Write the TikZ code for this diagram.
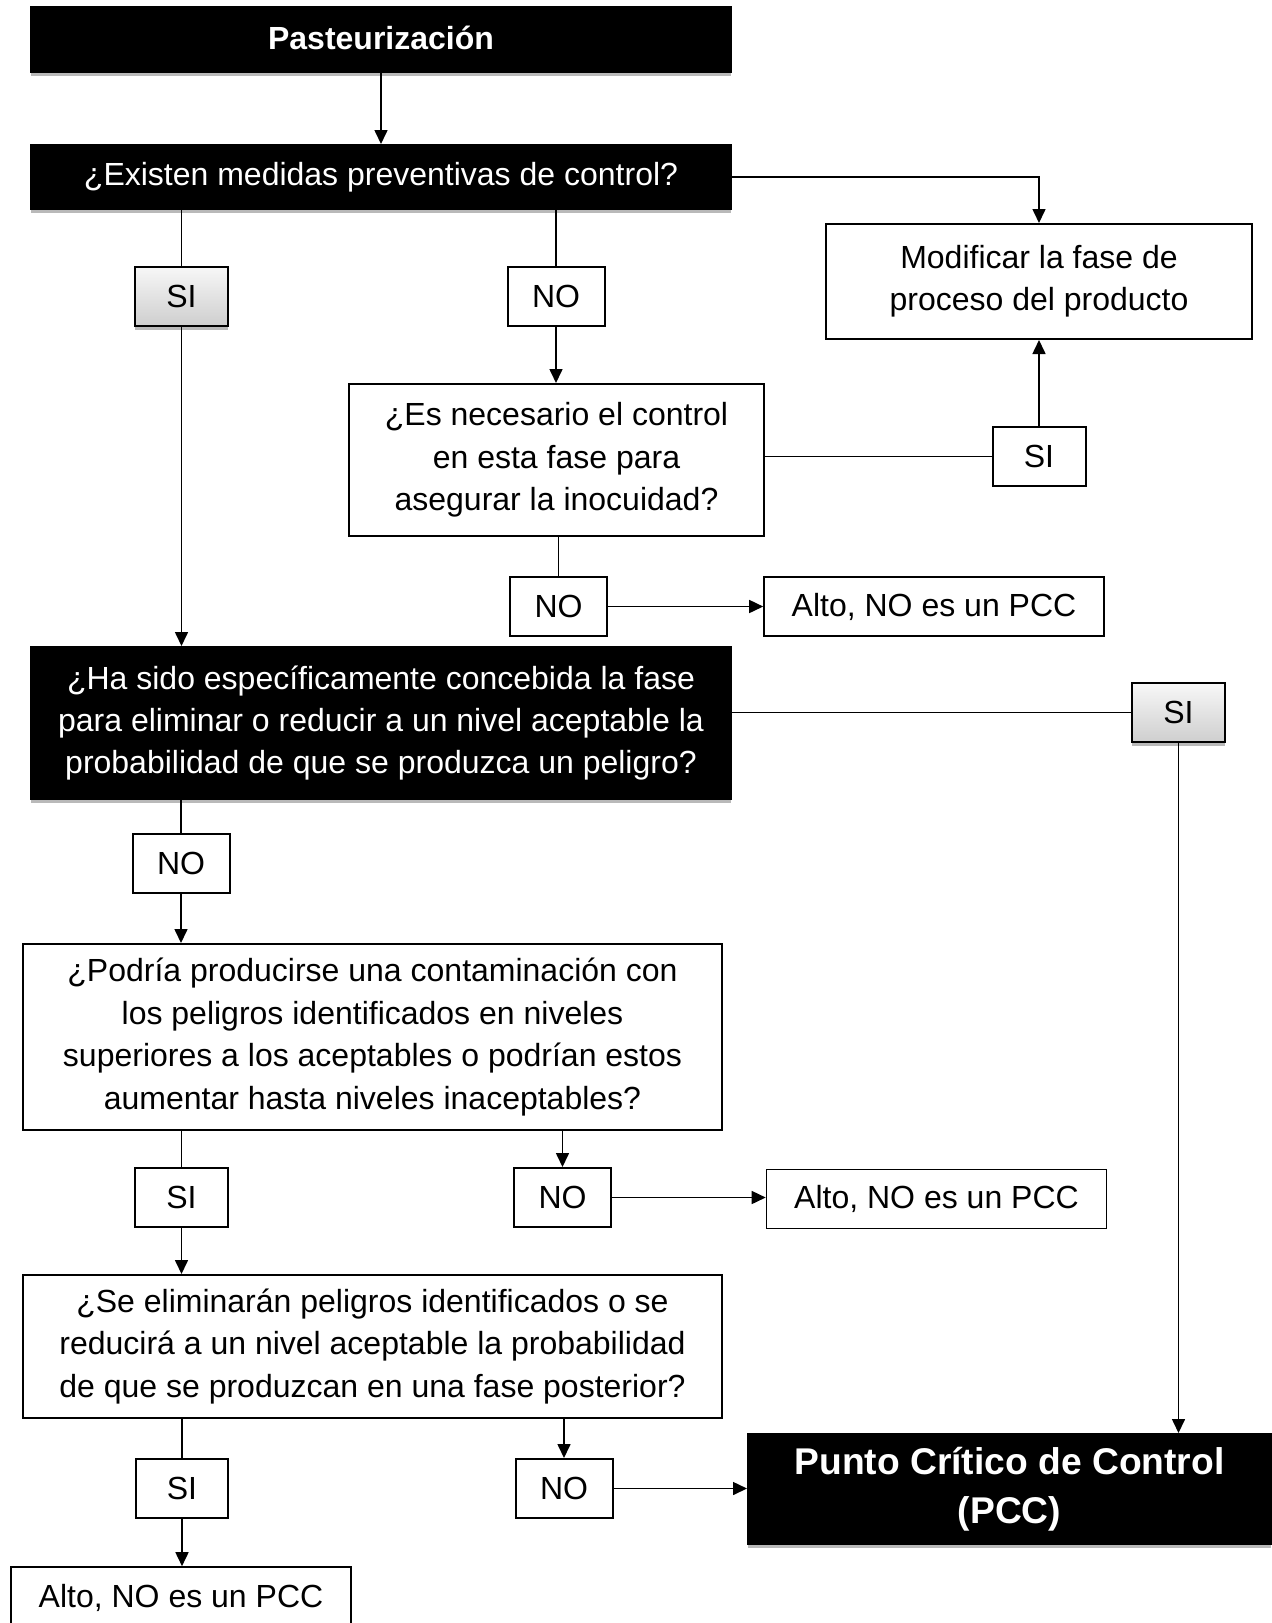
\documentclass[tikz,border=0pt]{standalone}
\usepackage{fontspec}
\setmainfont{Liberation Sans}
\usetikzlibrary{positioning,arrows.meta,shadows}

\tikzset{
	box/.style={draw, line width=1pt, align=center, inner sep=0pt,
		font=\fontsize{16}{21.2}\selectfont},
	strip/.style={drop shadow={shadow xshift=0pt, shadow yshift=-2.2pt,
		fill=gray!55, opacity=1}},
	blackbox/.style={box, fill=black, text=white, strip},
	sibox/.style={box, top color=gray!6, bottom color=gray!38, strip,
		minimum width=46.5pt, minimum height=29.5pt},
	nobox/.style={box, minimum width=48.5pt, minimum height=29.5pt},
	altobox/.style={box, line width=0.8pt, minimum width=170pt, minimum height=29.5pt},
	link/.style={line width=0.8pt},
	arrow/.style={link, -{Triangle[length=7pt,width=6.5pt]}},
}

\begin{document}
\begin{tikzpicture}[x=0.5pt, y=-0.5pt]
	\useasboundingbox (0,0) rectangle (1271,1623);
	
	% first question
	\node [blackbox, minimum width=350pt, minimum height=32.5pt, font=\fontsize{16}{21.2}\selectfont\bfseries] (past) at (381,39.5) {\raisebox{2pt}{Pasteurización}};
	\node [blackbox, minimum width=350pt, minimum height=32pt] (exist) at (381,177) {¿Existen medidas preventivas de control?};
	\node [box, minimum width=213pt, minimum height=57.5pt] (modif) at (1039,281.5) {Modificar la fase de\\proceso del producto};
	\node [sibox] (si1) at (181.5,296) {SI};
	\node [nobox] (no1) at (556,296) {NO};
	\node [box, minimum width=207.5pt, minimum height=76pt] (nec) at (556.5,460) {¿Es necesario el control\\en esta fase para\\asegurar la inocuidad?};
	\node [nobox, minimum width=46.5pt] (si2) at (1039,456.5) {SI};
	\node [nobox] (no2) at (558.5,606.5) {NO};
	\node [altobox] (alto1) at (934,606.5) {Alto, NO es un PCC};
	
	% second question
	\node [blackbox, minimum width=350pt, minimum height=76pt] (hasido) at (381,723) {¿Ha sido específicamente concebida la fase\\para eliminar o reducir a un nivel aceptable la\\probabilidad de que se produzca un peligro?};
	\node [sibox] (si3) at (1178.5,712.5) {SI};
	\node [nobox] (no3) at (181,863) {NO};
	
	% third question
	\node [box, minimum width=349.5pt, minimum height=93pt] (podria) at (372.5,1037) {¿Podría producirse una contaminación con\\los peligros identificados en niveles\\superiores a los aceptables o podrían estos\\aumentar hasta niveles inaceptables?};
	\node [nobox, minimum width=46.5pt] (si4) at (181.5,1197.5) {SI};
	\node [nobox] (no4) at (562.5,1197.5) {NO};
	\node [altobox] (alto2) at (936.5,1199) {Alto, NO es un PCC};
	
	% fourth question
	\node [box, minimum width=349.5pt, minimum height=71.5pt] (elim) at (372.5,1346.5) {¿Se eliminarán peligros identificados o se\\reducirá a un nivel aceptable la probabilidad\\de que se produzcan en una fase posterior?};
	\node [nobox, minimum width=46pt] (si5) at (182,1488.5) {SI};
	\node [nobox] (no5) at (564,1488.5) {NO};
	\node [blackbox, minimum width=261.5pt, minimum height=55pt, font=\fontsize{18.6}{24.8}\selectfont\bfseries] (pcc) at (1009.5,1489) {Punto Crítico de Control\\(PCC)};
	\node [altobox, minimum height=31pt] (alto3) at (181,1598) {Alto, NO es un PCC};
	
	% connectors
	\draw [arrow] (past) -- (exist);
	\draw [arrow] (exist.east) -| (modif.north);
	\draw [link] (si1.north |- exist.south) -- (si1.north);
	\draw [arrow] (si1.south) -- (si1.south |- hasido.north);
	\draw [link] (no1.north |- exist.south) -- (no1.north);
	\draw [arrow] (no1.south) -- (no1.south |- nec.north);
	\draw [link] (si2.west -| nec.east) -- (si2.west);
	\draw [arrow] (si2.north) -- (si2.north |- modif.south);
	\draw [link] (no2.north |- nec.south) -- (no2.north);
	\draw [arrow] (no2.east) -- (alto1.west);
	\draw [link] (si3.west -| hasido.east) -- (si3.west);
	\draw [arrow] (si3.south) -- (si3.south |- pcc.north);
	\draw [link] (no3.north |- hasido.south) -- (no3.north);
	\draw [arrow] (no3.south) -- (no3.south |- podria.north);
	\draw [link] (si4.north |- podria.south) -- (si4.north);
	\draw [arrow] (no4.north |- podria.south) -- (no4.north);
	\draw [arrow] (no4.east) -- (alto2.west |- no4.east);
	\draw [arrow] (si4.south) -- (si4.south |- elim.north);
	\draw [link] (si5.north |- elim.south) -- (si5.north);
	\draw [arrow] (no5.north |- elim.south) -- (no5.north);
	\draw [arrow] (no5.east) -- (pcc.west |- no5.east);
	\draw [arrow] (si5.south) -- (si5.south |- alto3.north);
\end{tikzpicture}
\end{document}
